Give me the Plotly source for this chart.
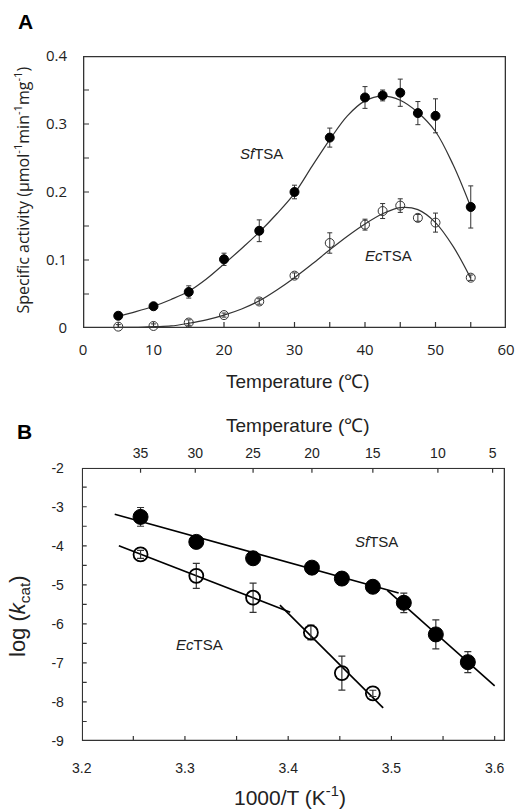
import plotly.graph_objects as go

W, H = 515, 809

# ---------------- Panel A data ----------------
temp_a = [5, 10, 15, 20, 25, 30, 35, 40, 42.5, 45, 47.5, 50, 55]
sf_act = [0.018, 0.032, 0.053, 0.101, 0.143, 0.200, 0.280, 0.339, 0.342, 0.346, 0.316, 0.312, 0.178]
sf_err = [0.003, 0.003, 0.009, 0.009, 0.016, 0.010, 0.014, 0.016, 0.008, 0.020, 0.017, 0.025, 0.031]
ec_act = [0.002, 0.003, 0.008, 0.019, 0.039, 0.077, 0.125, 0.152, 0.172, 0.180, 0.162, 0.155, 0.074]
ec_err = [0.003, 0.003, 0.004, 0.003, 0.004, 0.004, 0.015, 0.008, 0.011, 0.010, 0.005, 0.014, 0.004]

fit_temp = [5, 7.5, 10, 12.5, 15, 17.5, 20, 22.5, 25, 27.5, 30, 32.5, 35, 37.5, 40, 42.5, 45, 47.5, 50, 52.5, 55]
sf_fit = [0.017, 0.024, 0.032, 0.042, 0.054, 0.072, 0.094, 0.117, 0.141, 0.168, 0.198, 0.238, 0.277, 0.312,
          0.334, 0.341, 0.335, 0.317, 0.289, 0.240, 0.178]
ec_fit = [0.001, 0.001, 0.002, 0.003, 0.007, 0.012, 0.019, 0.028, 0.040, 0.056, 0.074, 0.094, 0.115, 0.135,
          0.153, 0.168, 0.177, 0.174, 0.155, 0.120, 0.073]

a_xlabel_vals = [0, 10, 20, 30, 40, 50, 60]
a_xtick_marks = [0, 5, 10, 15, 20, 25, 30, 35, 40, 45, 50, 55, 60]
a_ylabel_vals = [0, 0.1, 0.2, 0.3, 0.4]
a_ylabel_text = ["0", "0.1", "0.2", "0.3", "0.4"]
a_ytick_marks = [0, 0.05, 0.1, 0.15, 0.2, 0.25, 0.3, 0.35, 0.4]

# ---------------- Panel B data ----------------
inv_t_sf = [3.257, 3.311, 3.366, 3.423, 3.452, 3.482, 3.512, 3.543, 3.574]
logk_sf = [-3.26, -3.90, -4.32, -4.56, -4.84, -5.05, -5.46, -6.27, -6.98]
logk_sf_err = [0.24, 0.10, 0.10, 0.08, 0.08, 0.08, 0.25, 0.37, 0.27]
inv_t_ec = [3.257, 3.311, 3.366, 3.422, 3.452, 3.482]
logk_ec = [-4.22, -4.77, -5.33, -6.22, -7.26, -7.78]
logk_ec_err = [0.10, 0.32, 0.375, 0.19, 0.435, 0.08]

sf_fit1_x = [3.232, 3.507]
sf_fit1_y = [-3.19, -5.21]
sf_fit2_x = [3.496, 3.600]
sf_fit2_y = [-5.14, -7.59]
ec_fit1_x = [3.236, 3.402]
ec_fit1_y = [-4.00, -5.70]
ec_fit2_x = [3.392, 3.492]
ec_fit2_y = [-5.52, -8.15]

b_xlabel_vals = [3.2, 3.3, 3.4, 3.5, 3.6]
b_xlabel_text = ["3.2", "3.3", "3.4", "3.5", "3.6"]
b_xtick_marks = [3.2, 3.25, 3.3, 3.35, 3.4, 3.45, 3.5, 3.55, 3.6]
b_ylabel_vals = [-9, -8, -7, -6, -5, -4, -3, -2]
b_ylabel_text = ["-9", "-8", "-7", "-6", "-5", "-4", "-3", "-2"]
b_ytick_marks = [-9, -8.5, -8, -7.5, -7, -6.5, -6, -5.5, -5, -4.5, -4, -3.5, -3, -2.5, -2]
top_temp_text = ["35", "30", "25", "20", "15", "10", "5"]
top_temp_pos = [3.257, 3.310, 3.366, 3.423, 3.482, 3.545, 3.598]

INK = "#222222"
LINE = "#333333"
FA = "Open Sans"
FB = "Liberation Sans, Arial"

# layout geometry (pixels in the 515x809 page)
A_X0, A_X1, A_Y0, A_Y1 = 83, 506, 56, 328
B_X0, B_X1, B_Y0, B_Y1 = 81.7, 505, 467.7, 741
A_XR, A_YR = [0, 60], [0, 0.4]
B_XR, B_YR = [3.2, 3.61], [-9, -2]


def px_x(px):
    return px / W


def px_y(py):
    return 1 - py / H


fig = go.Figure()


def frame_and_ticks(xr, yr, px_w, px_h, xmarks, ymarks, xa, ya, tl, top_marks=None):
    """Plot frame and inward tick marks as thin filled bars, placed through the axes' own scales."""
    ux = (xr[1] - xr[0]) / px_w  # one pixel in x units
    uy = (yr[1] - yr[0]) / px_h  # one pixel in y units
    fw = 1.3  # frame thickness (px)
    tw = 1.2  # tick thickness (px)
    xs, ys = [], []

    def bar(xa0, xa1, ya0, ya1):
        xs.extend([xa0, xa1, xa1, xa0, xa0, None])
        ys.extend([ya0, ya0, ya1, ya1, ya0, None])

    # frame edges (kept inside the axis ranges)
    bar(xr[0], xr[1], yr[0], yr[0] + fw * uy)
    bar(xr[0], xr[1], yr[1] - fw * uy, yr[1])
    bar(xr[0], xr[0] + fw * ux, yr[0], yr[1])
    bar(xr[1] - fw * ux, xr[1], yr[0], yr[1])
    # ticks
    for v in xmarks:
        c = min(max(v, xr[0] + tw / 2 * ux), xr[1] - tw / 2 * ux)
        bar(c - tw / 2 * ux, c + tw / 2 * ux, yr[0], yr[0] + tl * uy)
    for v in ymarks:
        c = min(max(v, yr[0] + tw / 2 * uy), yr[1] - tw / 2 * uy)
        bar(xr[0], xr[0] + tl * ux, c - tw / 2 * uy, c + tw / 2 * uy)
    for v in (top_marks or []):
        bar(v - tw / 2 * ux, v + tw / 2 * ux, yr[1] - tl * uy, yr[1])
    fig.add_trace(go.Scatter(x=xs, y=ys, mode="lines", fill="toself", fillcolor=LINE,
                             line=dict(color=LINE, width=0.01), xaxis=xa, yaxis=ya, hoverinfo="none"))


# Panel A
frame_and_ticks(A_XR, A_YR, A_X1 - A_X0, A_Y1 - A_Y0, a_xtick_marks, a_ytick_marks, "x", "y", 6)
fig.add_trace(go.Scatter(x=fit_temp, y=sf_fit, mode="lines", line=dict(color=LINE, width=1.2, shape="spline"),
                         xaxis="x", yaxis="y", hoverinfo="skip"))
fig.add_trace(go.Scatter(x=fit_temp, y=ec_fit, mode="lines", line=dict(color=LINE, width=1.2, shape="spline"),
                         xaxis="x", yaxis="y", hoverinfo="skip"))
fig.add_trace(go.Scatter(x=temp_a, y=sf_act, mode="markers",
                         marker=dict(symbol="circle", size=9, color="black", line=dict(color="black", width=1)),
                         error_y=dict(type="data", array=sf_err, visible=True, color=LINE, thickness=1, width=2.5),
                         xaxis="x", yaxis="y", cliponaxis=False))
fig.add_trace(go.Scatter(x=temp_a, y=ec_act, mode="markers",
                         marker=dict(symbol="circle", size=9, color="rgba(0,0,0,0)", line=dict(color=LINE, width=1)),
                         error_y=dict(type="data", array=ec_err, visible=True, color=LINE, thickness=1, width=2.5),
                         xaxis="x", yaxis="y", cliponaxis=False))

# Panel B
frame_and_ticks(B_XR, B_YR, B_X1 - B_X0, B_Y1 - B_Y0, b_xtick_marks, b_ytick_marks, "x2", "y2", 5,
                top_marks=top_temp_pos)
for fx, fy in [(sf_fit1_x, sf_fit1_y), (sf_fit2_x, sf_fit2_y), (ec_fit1_x, ec_fit1_y), (ec_fit2_x, ec_fit2_y)]:
    fig.add_trace(go.Scatter(x=fx, y=fy, mode="lines", line=dict(color="black", width=1.6),
                             xaxis="x2", yaxis="y2", hoverinfo="skip"))
fig.add_trace(go.Scatter(x=inv_t_sf, y=logk_sf, mode="markers",
                         marker=dict(symbol="circle", size=15, color="black", line=dict(color="black", width=1)),
                         error_y=dict(type="data", array=logk_sf_err, visible=True, color=LINE, thickness=1.2, width=3.5),
                         xaxis="x2", yaxis="y2"))
fig.add_trace(go.Scatter(x=inv_t_ec, y=logk_ec, mode="markers",
                         marker=dict(symbol="circle", size=14, color="rgba(0,0,0,0)", line=dict(color="black", width=1.8)),
                         error_y=dict(type="data", array=logk_ec_err, visible=True, color=LINE, thickness=1.2, width=3.5),
                         xaxis="x2", yaxis="y2"))
# invisible trace to carry the top temperature axis
fig.add_trace(go.Scatter(x=[top_temp_pos[3]], y=[logk_sf[3]], mode="markers", marker=dict(opacity=0),
                         xaxis="x3", yaxis="y2", hoverinfo="skip"))


def axis(domain, rng, anchor, label_vals, label_text, gap, font):
    return dict(domain=domain, range=rng, anchor=anchor, tickmode="array",
                tickvals=label_vals, ticktext=label_text,
                ticks="outside", ticklen=gap, tickcolor="rgba(0,0,0,0)",
                tickfont=font, showgrid=False, zeroline=False, showline=False,
                fixedrange=True, automargin=False)


fontA = dict(family=FA, size=15, color=INK)
fontB = dict(family=FB, size=14, color=INK)

fig.update_layout(
    template="none",
    width=W, height=H, margin=dict(l=0, r=0, t=0, b=0, pad=0),
    paper_bgcolor="white", plot_bgcolor="white", showlegend=False,
    xaxis=axis([px_x(A_X0), px_x(A_X1)], A_XR, "y", a_xlabel_vals, [str(v) for v in a_xlabel_vals], 8, fontA),
    yaxis=axis([px_y(A_Y1), px_y(A_Y0)], A_YR, "x", a_ylabel_vals, a_ylabel_text, 12, fontA),
    xaxis2=axis([px_x(B_X0), px_x(B_X1)], B_XR, "y2", b_xlabel_vals, b_xlabel_text, 14, fontB),
    yaxis2=axis([px_y(B_Y1), px_y(B_Y0)], B_YR, "x2", b_ylabel_vals, b_ylabel_text, 14, fontB),
    xaxis3=dict(overlaying="x2", side="top", anchor="y2", range=B_XR, tickmode="array",
                tickvals=top_temp_pos, ticktext=top_temp_text, ticks="outside", ticklen=3,
                tickcolor="rgba(0,0,0,0)", showline=False, showgrid=False, zeroline=False,
                fixedrange=True, automargin=False, tickfont=fontB),
)

annots = [
    dict(text="<b>A</b>", x=px_x(25), y=px_y(22), font=dict(family=FB, size=21, color="black")),
    dict(text="<b>B</b>", x=px_x(24.5), y=px_y(431.5), font=dict(family=FB, size=21, color="black")),
    dict(text="Specific activity (μmol<sup>-1</sup>min<sup>-1</sup>mg<sup>-1</sup>)", x=px_x(23), y=px_y(190.5),
         textangle=-90, font=dict(family=FA, size=16, color=INK)),
    dict(text="Temperature (℃)", x=px_x(298), y=px_y(381.7), font=dict(family=FB, size=19, color=INK)),
    dict(text="Temperature (℃)", x=px_x(298), y=px_y(425), font=dict(family=FB, size=19, color=INK)),
    dict(text="log (<i>k</i><sub>cat</sub>)", x=px_x(19), y=px_y(616), textangle=-90,
         font=dict(family=FB, size=22, color=INK)),
    dict(text="1000/T (K<sup>-1</sup>)", x=px_x(290), y=px_y(796), font=dict(family=FB, size=21, color=INK)),
]
for a in annots:
    a.update(xref="paper", yref="paper", showarrow=False, xanchor="center", yanchor="middle")

data_labels = [
    dict(text="<i>Sf</i>TSA", x=25.3, y=0.257, xref="x", yref="y"),
    dict(text="<i>Ec</i>TSA", x=43.3, y=0.106, xref="x", yref="y"),
    dict(text="<i>Sf</i>TSA", x=3.486, y=-3.895, xref="x2", yref="y2"),
    dict(text="<i>Ec</i>TSA", x=3.3145, y=-6.54, xref="x2", yref="y2"),
]
for a in data_labels:
    a.update(showarrow=False, xanchor="center", yanchor="middle", font=dict(family=FB, size=15, color=INK))

fig.update_layout(annotations=annots + data_labels)

fig.write_html("out.html", config={"displayModeBar": False},
               post_script="document.body.style.margin='0';document.body.style.overflow='hidden';")
